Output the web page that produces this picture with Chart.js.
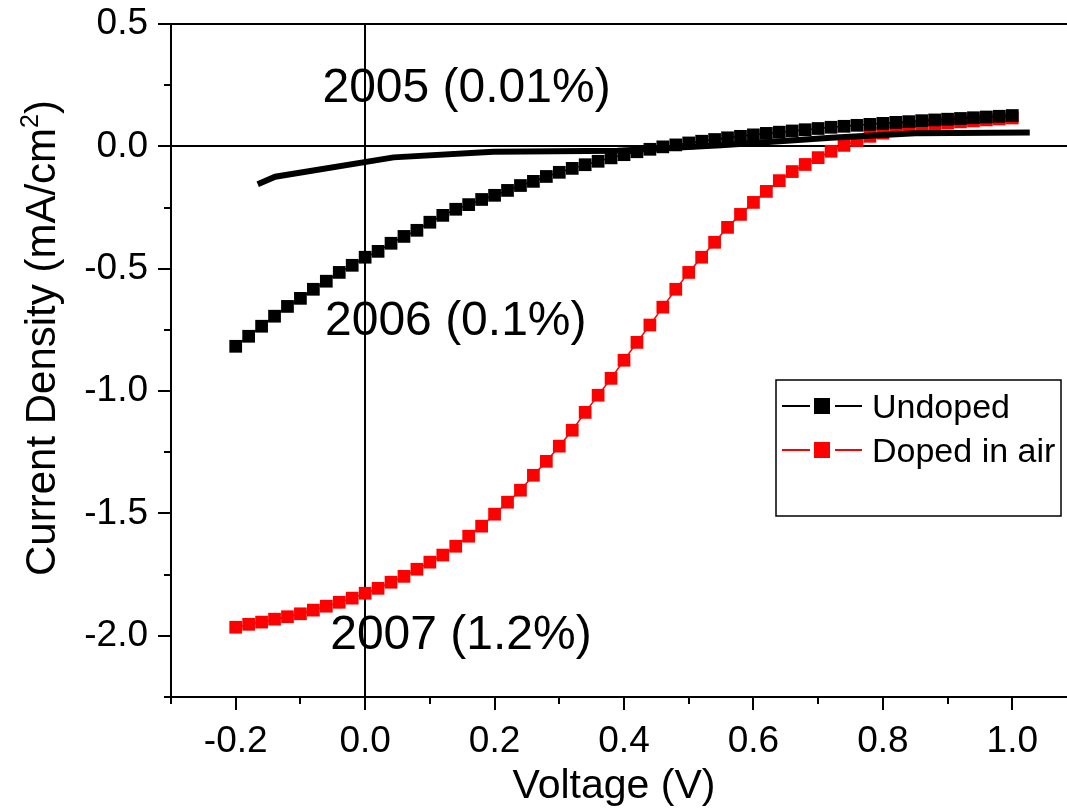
<!DOCTYPE html>
<html>
<head>
<meta charset="utf-8">
<script src="https://cdn.jsdelivr.net/npm/chart.js@4.4.1/dist/chart.umd.min.js"></script>
<style>
  html, body { margin: 0; padding: 0; overflow: hidden; background: #fff; }
</style>
</head>
<body>
<canvas id="myChart" width="1086" height="811"></canvas>
<script>
// voltage sweep (V) shared by both square-marker curves
const voltage = [
  -0.2, -0.18, -0.16, -0.14, -0.12, -0.1, -0.08, -0.06, -0.04, -0.02,
  0, 0.02, 0.04, 0.06, 0.08, 0.1, 0.12, 0.14, 0.16, 0.18,
  0.2, 0.22, 0.24, 0.26, 0.28, 0.3, 0.32, 0.34, 0.36, 0.38,
  0.4, 0.42, 0.44, 0.46, 0.48, 0.5, 0.52, 0.54, 0.56, 0.58,
  0.6, 0.62, 0.64, 0.66, 0.68, 0.7, 0.72, 0.74, 0.76, 0.78,
  0.8, 0.82, 0.84, 0.86, 0.88, 0.9, 0.92, 0.94, 0.96, 0.98,
  1.0
];
// current density (mA/cm2)
const undopedJ = [
  -0.817, -0.776, -0.735, -0.694, -0.654, -0.621, -0.584, -0.551, -0.515, -0.486,
  -0.453, -0.429, -0.396, -0.368, -0.343, -0.310, -0.282, -0.257, -0.238, -0.217,
  -0.200, -0.180, -0.160, -0.143, -0.123, -0.106, -0.090, -0.075, -0.061, -0.047,
  -0.034, -0.022, -0.012, -0.002, 0.006, 0.014, 0.021, 0.028, 0.035, 0.041,
  0.047, 0.053, 0.058, 0.063, 0.068, 0.073, 0.078, 0.082, 0.086, 0.090,
  0.094, 0.098, 0.101, 0.105, 0.108, 0.111, 0.114, 0.117, 0.120, 0.123,
  0.126
];
const dopedJ = [
  -1.965, -1.953, -1.944, -1.932, -1.922, -1.910, -1.895, -1.879, -1.863, -1.846,
  -1.826, -1.806, -1.781, -1.757, -1.728, -1.699, -1.670, -1.634, -1.593, -1.552,
  -1.503, -1.454, -1.405, -1.344, -1.287, -1.225, -1.160, -1.087, -1.017, -0.948,
  -0.874, -0.801, -0.730, -0.657, -0.584, -0.515, -0.453, -0.392, -0.331, -0.278,
  -0.229, -0.184, -0.140, -0.103, -0.074, -0.046, -0.020, 0.004, 0.024, 0.041,
  0.054, 0.065, 0.074, 0.082, 0.089, 0.095, 0.100, 0.104, 0.108, 0.112,
  0.116
];
// 2005 curve (plain thick line)
const line2005V = [-0.166, -0.139, 0.044, 0.198, 0.39, 0.55, 0.72, 0.85, 1.027];
const line2005J = [-0.155, -0.124, -0.045, -0.022, -0.018, 0.005, 0.035, 0.054, 0.057];

const seriesLabels = ["Undoped", "Doped in air"];
const xTickValues = [-0.2, 0, 0.2, 0.4, 0.6, 0.8, 1.0];
const yTickValues = [-2.0, -1.5, -1.0, -0.5, 0, 0.5];
const xMinorValues = [-0.3, -0.1, 0.1, 0.3, 0.5, 0.7, 0.9, 1.1];
const yMinorValues = [-2.25, -1.75, -1.25, -0.75, -0.25, 0.25];

const annoText = ["2005 (0.01%)", "2006 (0.1%)", "2007 (1.2%)"];
const annoX = [-0.066, -0.062, -0.054];
const annoY = [0.237, -0.715, -2.0];

const FONT = '"Liberation Sans", Arial, sans-serif';
Chart.defaults.font.family = FONT;
Chart.defaults.color = "#000";

function pts(xs, ys) {
  let out = [];
  for (let i = 0; i < xs.length; i++) {
    out.push({ x: xs[i], y: ys[i] });
  }
  return out;
}

const extras = {
  id: "extras",
  afterDraw(chart) {
    const { ctx, chartArea: a } = chart;
    const x = chart.scales.x;
    const y = chart.scales.y;
    ctx.save();
    ctx.strokeStyle = "#000";
    ctx.lineWidth = 2;

    // top frame line
    ctx.beginPath();
    ctx.moveTo(a.left - 1, a.top);
    ctx.lineTo(a.right, a.top);
    ctx.stroke();

    // minor ticks
    ctx.beginPath();
    for (const v of xMinorValues) {
      const px = Math.round(x.getPixelForValue(v));
      ctx.moveTo(px, a.bottom);
      ctx.lineTo(px, a.bottom + 7);
    }
    for (const v of yMinorValues) {
      const py = Math.round(y.getPixelForValue(v));
      ctx.moveTo(a.left, py);
      ctx.lineTo(a.left - 7, py);
    }
    ctx.stroke();

    // year annotations
    ctx.fillStyle = "#000";
    ctx.font = "48px " + FONT;
    ctx.textAlign = "left";
    ctx.textBaseline = "middle";
    for (let i = 0; i < annoText.length; i++) {
      ctx.fillText(annoText[i], x.getPixelForValue(annoX[i]), y.getPixelForValue(annoY[i]));
    }

    // legend box
    const bx = 776, by = 380, bw = 285, bh = 136;
    ctx.fillStyle = "#fff";
    ctx.fillRect(bx, by, bw, bh);
    ctx.lineWidth = 1.5;
    ctx.strokeRect(bx, by, bw, bh);
    const legendSets = [chart.data.datasets[1], chart.data.datasets[2]];
    ctx.font = "34px " + FONT;
    ctx.textBaseline = "alphabetic";
    legendSets.forEach((ds, i) => {
      const cy = 406 + i * 44;
      ctx.strokeStyle = ds.borderColor;
      ctx.lineWidth = 2;
      ctx.beginPath();
      ctx.moveTo(782, cy); ctx.lineTo(810, cy);
      ctx.moveTo(835, cy); ctx.lineTo(862, cy);
      ctx.stroke();
      ctx.fillStyle = ds.pointBackgroundColor;
      ctx.fillRect(814, cy - 8, 16, 16);
      ctx.fillStyle = "#000";
      ctx.fillText(ds.label, 872, cy + 12);
    });

    // axis titles
    ctx.fillStyle = "#000";
    ctx.font = "41px " + FONT;
    ctx.textAlign = "center";
    ctx.textBaseline = "middle";
    ctx.fillText("Voltage (V)", 614, 787);

    ctx.save();
    ctx.translate(55, 338);
    ctx.rotate(-Math.PI / 2);
    const big = "42px " + FONT, small = "25px " + FONT;
    const p1 = "Current Density (mA/cm", p2 = "2", p3 = ")";
    ctx.font = big;
    const w1 = ctx.measureText(p1).width, w3 = ctx.measureText(p3).width;
    ctx.font = small;
    const w2 = ctx.measureText(p2).width;
    let sx = -(w1 + w2 + w3) / 2;
    ctx.textAlign = "left";
    ctx.textBaseline = "alphabetic";
    ctx.font = big;
    ctx.fillText(p1, sx, 0);
    ctx.font = small;
    ctx.fillText(p2, sx + w1, -17);
    ctx.font = big;
    ctx.fillText(p3, sx + w1 + w2, 0);
    ctx.restore();

    ctx.restore();
  }
};

const config = {
  type: "line",
  data: {
    datasets: [
      {
        label: "2005",
        data: pts(line2005V, line2005J),
        borderColor: "#000",
        borderWidth: 6,
        pointRadius: 0,
        tension: 0,
        fill: false,
      },
      {
        label: seriesLabels[0],
        data: pts(voltage, undopedJ),
        borderColor: "#000",
        borderWidth: 1.5,
        pointStyle: "rect",
        pointRadius: 9,
        pointBorderWidth: 0,
        pointBackgroundColor: "#000",
        fill: false,
      },
      {
        label: seriesLabels[1],
        data: pts(voltage, dopedJ),
        borderColor: "#ff0000",
        borderWidth: 1.5,
        pointStyle: "rect",
        pointRadius: 9,
        pointBorderWidth: 0,
        pointBackgroundColor: "#ff0000",
        fill: false,
      },
    ],
  },
  options: {
    responsive: false,
    animation: false,
    layout: { padding: { top: 24, right: 3, left: 0, bottom: 0 } },
    plugins: {
      legend: { display: false },
      tooltip: { enabled: false },
    },
    scales: {
      x: {
        type: "linear",
        min: -0.3,
        max: 1.1,
        afterBuildTicks: (s) => { s.ticks = xTickValues.map((v) => ({ value: v })); },
        afterFit: (s) => { s.height = 114; },
        border: { display: true, color: "#000", width: 2 },
        grid: {
          color: (c) => (c.tick && c.tick.value === 0 ? "#000" : "transparent"),
          lineWidth: 2,
          tickColor: "#000",
          tickLength: 13,
          tickWidth: 2,
        },
        ticks: {
          font: { size: 37 },
          color: "#000",
          padding: 10,
          maxRotation: 0,
          callback: (v) => Number(v).toFixed(1),
        },
        title: { display: false },
      },
      y: {
        type: "linear",
        min: -2.25,
        max: 0.5,
        afterBuildTicks: (s) => { s.ticks = yTickValues.map((v) => ({ value: v })); },
        afterFit: (s) => { s.width = 171; s.paddingTop = 0; s.paddingBottom = 0; },
        border: { display: true, color: "#000", width: 2 },
        grid: {
          color: (c) => (c.tick && c.tick.value === 0 ? "#000" : "transparent"),
          lineWidth: 2,
          tickColor: "#000",
          tickLength: 13,
          tickWidth: 2,
        },
        ticks: {
          font: { size: 37, lineHeight: 0.6 },
          color: "#000",
          padding: 10,
          callback: (v) => Number(v).toFixed(1),
        },
        title: { display: false },
      },
    },
  },
  plugins: [extras],
};

myChart = new Chart(document.getElementById("myChart"), config);
</script>
</body>
</html>
